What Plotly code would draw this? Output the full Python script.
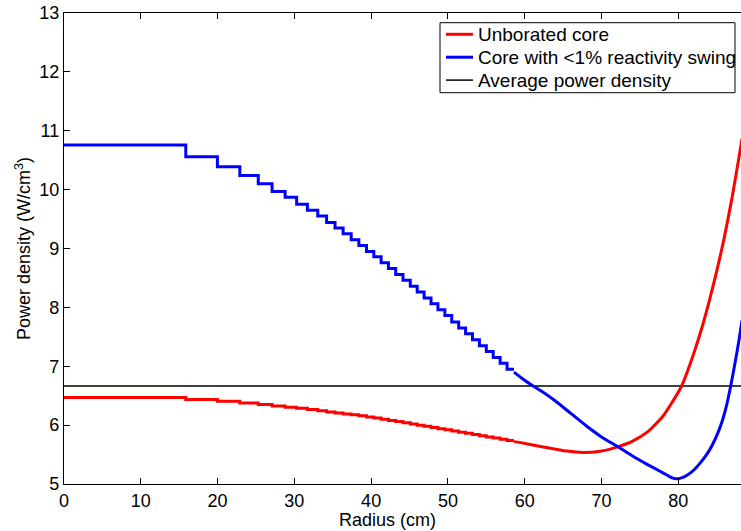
import plotly.graph_objects as go

# Radial zones of the core (cm): each zone has a flat power density
zone_edges = [0, 15.86, 19.98, 22.9, 25.3, 27.1, 28.8, 30.3, 31.7, 33.05, 34.2,
              35.3, 36.35, 37.4, 38.4, 39.4, 40.35, 41.3, 42.25, 43.2, 44.15,
              45.1, 46.0, 46.9, 47.8, 48.7, 49.6, 50.5, 51.4, 52.3, 53.2, 54.1,
              55.0, 55.9, 56.8, 57.7]
zone_end = 58.6

unborated_zone = [6.47, 6.435, 6.405, 6.375, 6.35, 6.325, 6.305, 6.285, 6.265,
                  6.245, 6.225, 6.205, 6.19, 6.175, 6.16, 6.14, 6.12, 6.10, 6.08,
                  6.06, 6.04, 6.02, 6.00, 5.98, 5.96, 5.94, 5.92, 5.90, 5.88,
                  5.86, 5.84, 5.82, 5.80, 5.78, 5.76, 5.74]
swing_zone = [10.76, 10.56, 10.39, 10.24, 10.10, 9.97, 9.87, 9.75, 9.65, 9.55,
              9.44, 9.35, 9.25, 9.15, 9.05, 8.95, 8.86, 8.76, 8.66, 8.56, 8.46,
              8.36, 8.26, 8.16, 8.06, 7.96, 7.86, 7.75, 7.65, 7.55, 7.45, 7.35,
              7.25, 7.15, 7.05, 6.95]

# Outer region, finely resolved
unborated_r = [58.6, 60.0, 62.4, 65.5, 67.5, 69.8, 72.3, 74.0, 76.0, 78.0, 79.0,
               80.44, 81.2, 82.0, 83.0, 84.0, 85.0, 86.0, 87.0, 88.0, 88.3]
unborated_outer = [5.72, 5.69, 5.63, 5.56, 5.535, 5.555, 5.64, 5.725, 5.885,
                   6.15, 6.345, 6.665, 6.915, 7.21, 7.62, 8.09, 8.61, 9.19,
                   9.86, 10.62, 10.86]

swing_r = [58.6, 59.8, 61.1, 62.5, 64.0, 66.0, 68.0, 70.0, 72.3, 74.0, 76.0,
           77.0, 78.0, 78.8, 79.3, 79.8, 80.3, 80.9, 81.5, 82.2, 83.0, 83.8,
           84.5, 85.2, 85.8, 86.3, 86.83, 87.3, 87.7, 88.0, 88.3]
swing_outer = [6.90, 6.78, 6.665, 6.55, 6.41, 6.20, 5.99, 5.80, 5.62, 5.48, 5.33,
               5.26, 5.19, 5.13, 5.10, 5.09, 5.10, 5.13, 5.18, 5.26, 5.38, 5.52,
               5.68, 5.88, 6.10, 6.34, 6.665, 6.99, 7.28, 7.52, 7.78]

average_density = 6.665
x_max = 88.17

names = ["Unborated core", "Core with <1% reactivity swing", "Average power density"]
colors = ["#ff0000", "#0000ff", "#000000"]
widths = [3, 3, 1.5]

W, H = 741, 531
M_L, M_R, M_T, M_B = 64, 0, 13, 47
PW, PH = W - M_L - M_R, H - M_T - M_B


def staircase(edges, values, end):
    bounds = list(edges) + [end]
    xs, ys = [], []
    for i, v in enumerate(values):
        xs += [bounds[i], bounds[i + 1]]
        ys += [v, v]
    return xs, ys


def fx(px):
    return (px - M_L) / PW


def fy(py):
    return 1 - (py - M_T) / PH


fig = go.Figure()

for color, zv in [(colors[0], unborated_zone), (colors[1], swing_zone)]:
    xs, ys = staircase(zone_edges, zv, zone_end)
    fig.add_trace(go.Scatter(x=xs, y=ys, mode="lines", showlegend=False,
                             line=dict(color=color, width=3)))

fig.add_trace(go.Scatter(x=[0, x_max], y=[average_density, average_density],
                         mode="lines", showlegend=False,
                         line=dict(color=colors[2], width=widths[2])))

for color, r, v in [(colors[0], unborated_r, unborated_outer),
                    (colors[1], swing_r, swing_outer)]:
    fig.add_trace(go.Scatter(x=r, y=v, mode="lines", showlegend=False,
                             line=dict(color=color, width=3, shape="spline",
                                       smoothing=0.6)))

font_family = "Liberation Sans, Arial, Helvetica, sans-serif"

# Boxed legend in the upper right corner
shapes = [dict(type="rect", xref="paper", yref="paper",
               x0=fx(440), x1=fx(735), y0=fy(92.7), y1=fy(22.7),
               line=dict(color="black", width=1), fillcolor="white", layer="above")]
annotations = []
for i, (name, color, w) in enumerate(zip(names, colors, widths)):
    ly = 34.3 + i * 22.9
    shapes.append(dict(type="line", xref="paper", yref="paper",
                       x0=fx(446), x1=fx(473), y0=fy(ly), y1=fy(ly),
                       line=dict(color=color, width=w), layer="above"))
    annotations.append(dict(text=name, xref="paper", yref="paper",
                            x=fx(476), y=fy(ly), xanchor="left", yanchor="middle",
                            showarrow=False, font=dict(size=19, color="black")))

# x-axis title sitting just under the tick labels
annotations.append(dict(text="Radius (cm)", xref="paper", yref="paper",
                        x=fx(387), y=fy(520), xanchor="center", yanchor="middle",
                        showarrow=False, font=dict(size=18, color="black")))

fig.update_layout(
    width=W, height=H,
    margin=dict(l=M_L, r=M_R, t=M_T, b=M_B),
    paper_bgcolor="white", plot_bgcolor="white",
    font=dict(family=font_family, size=18, color="black"),
    showlegend=False,
    shapes=shapes, annotations=annotations,
    xaxis=dict(range=[0, x_max], tickvals=[0, 10, 20, 30, 40, 50, 60, 70, 80],
               ticks="inside", ticklen=6, tickcolor="black",
               showline=True, linecolor="black", linewidth=1.2, mirror="ticks",
               showgrid=False, zeroline=False),
    yaxis=dict(range=[5, 13], dtick=1, ticks="inside", ticklen=6,
               tickcolor="black", showline=True, linecolor="black",
               linewidth=1.2, mirror=False, showgrid=False, zeroline=False,
               title=dict(text="Power density (W/cm<sup>3</sup>)", standoff=3,
                          font=dict(size=18))),
)

fig.write_html("out.html")
